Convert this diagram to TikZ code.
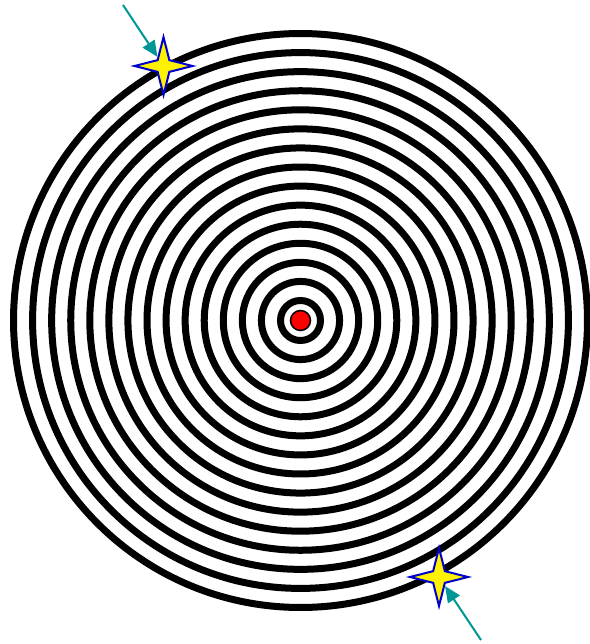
\documentclass[tikz,border=0pt]{standalone}
\usepackage{tikz}
\usetikzlibrary{shapes.geometric, arrows.meta}
\definecolor{sparkblue}{RGB}{0,0,205}
\definecolor{pointerteal}{RGB}{0,150,150}

\begin{document}
\begin{tikzpicture}[
  x=1pt, y=-1pt,
  ring/.style={draw=black, line width=7pt},
  spark/.style={star, star points=4, star point ratio=3.5, minimum size=58pt, inner sep=0pt, draw=sparkblue, fill=yellow, line width=2pt},
  pointer/.style={draw=pointerteal, line width=2pt, -{Triangle[length=16pt,width=14pt]}}
]
\useasboundingbox (0,0) rectangle (589,644);
\coordinate (ctr) at (300.5,320.5);
% rings
\foreach \k in {0,...,14}
  \draw[ring] (ctr) circle ({20+19.07*\k});
\node[circle, fill=red, draw=black, line width=1.5pt, minimum size=20pt, inner sep=0pt] (dot) at (ctr) {};
% stars and pointers
\node[spark] (sparkA) at (163.5,66) {};
\node[spark] (sparkB) at (439,577) {};
\coordinate (tailA) at (123,5);
\coordinate (tailB) at (481,640);
\draw[pointer] (tailA) -- (sparkA);
\draw[pointer] (tailB) -- (sparkB);
\end{tikzpicture}
\end{document}
